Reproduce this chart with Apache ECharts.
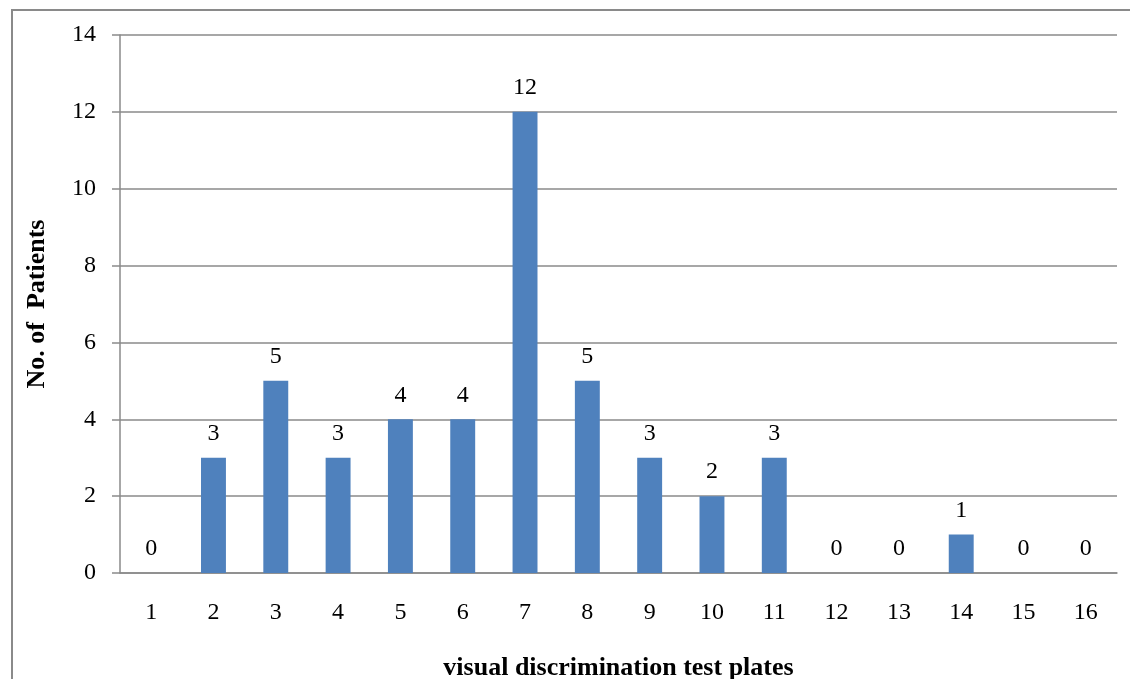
<!DOCTYPE html>
<html>
<head>
<meta charset="utf-8">
<script src="https://cdn.jsdelivr.net/npm/echarts@6/dist/echarts.min.js"></script>
<style>
  html, body { margin: 0; padding: 0; background: #fff; }
  #chart { width: 1130px; height: 679px; }
</style>
</head>
<body>
<div id="chart"></div>
<script>
// Test plate numbers and the patient count for each plate
const plates = ['1', '2', '3', '4', '5', '6', '7', '8', '9', '10', '11', '12', '13', '14', '15', '16'];
const patients = [0, 3, 5, 3, 4, 4, 12, 5, 3, 2, 3, 0, 0, 1, 0, 0];

const serif = 'Liberation Serif, Times New Roman, serif';

const chart = echarts.init(document.getElementById('chart'), null, { renderer: 'canvas' });

chart.setOption({
  animation: false,
  backgroundColor: '#ffffff',
  graphic: [{
    type: 'rect',
    shape: { x: 12, y: 10, width: 1140, height: 700 },
    style: { fill: 'none', stroke: '#8a8a8a', lineWidth: 2 },
    silent: true
  }],
  grid: {
    left: 120, right: 13, top: 35, bottom: 106,
    containLabel: false,
    outerBoundsMode: 'none'
  },
  xAxis: {
    type: 'category',
    data: plates,
    name: 'visual discrimination test plates',
    nameLocation: 'middle',
    nameGap: 82,
    nameTextStyle: { fontFamily: serif, fontSize: 26, fontWeight: 'bold', color: '#000' },
    axisLine: { lineStyle: { color: '#8a8a8a', width: 1.5 } },
    axisTick: { show: false },
    axisLabel: { fontFamily: serif, fontSize: 24, color: '#000', margin: 28 }
  },
  yAxis: {
    type: 'value',
    min: 0, max: 14, interval: 2,
    name: 'No. of  Patients',
    nameLocation: 'middle',
    nameGap: 70,
    nameTextStyle: { fontFamily: serif, fontSize: 26, fontWeight: 'bold', color: '#000' },
    axisLine: { show: true, lineStyle: { color: '#8a8a8a', width: 1.5 } },
    axisTick: { show: true, inside: false, length: 8, lineStyle: { color: '#8a8a8a', width: 1.5 } },
    axisLabel: { fontFamily: serif, fontSize: 24, color: '#000', margin: 24 },
    splitLine: { lineStyle: { color: '#8a8a8a', width: 1.5 } }
  },
  series: [{
    type: 'bar',
    data: patients,
    barWidth: '40%',
    itemStyle: { color: '#4f81bd' },
    label: {
      show: true,
      position: 'top',
      distance: 12,
      fontFamily: serif,
      fontSize: 24,
      color: '#000'
    }
  }]
});
</script>
</body>
</html>
